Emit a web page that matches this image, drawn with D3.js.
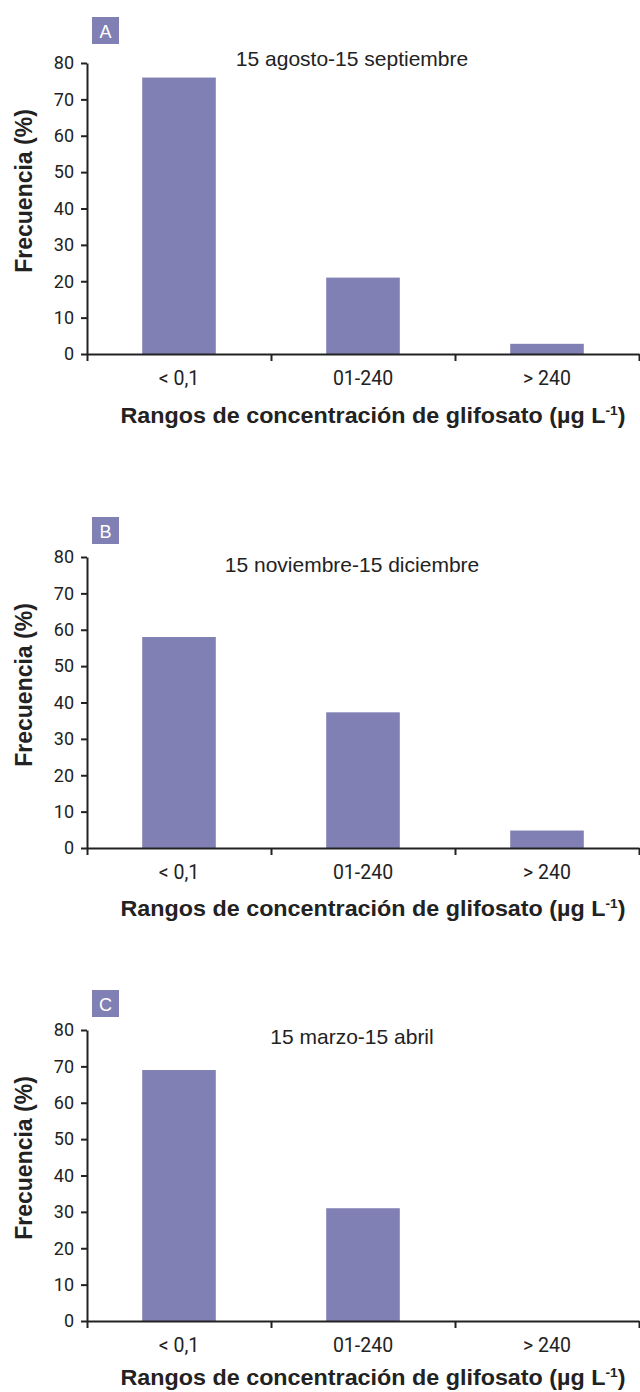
<!DOCTYPE html>
<html>
<head>
  <meta charset="utf-8">
  <script src="https://d3js.org/d3.v7.min.js"></script>
  <style>
    body { margin:0; background:#fff; }
    svg { display:block; }
    .tick text { font-family: Roboto, "Liberation Sans", sans-serif; fill:#222; }
    .domain, .tick line { stroke:#222; stroke-width:2px; }
  </style>
</head>
<body>
<script>
// data
var categories = ["< 0,1", "01-240", "> 240"];
var panelLetters = ["A", "B", "C"];
var panelTitles = ["15 agosto-15 septiembre", "15 noviembre-15 diciembre", "15 marzo-15 abril"];
var valuesA = [76, 21, 2.8];
var valuesB = [58, 37.3, 4.8];
var valuesC = [69, 31, 0];
var yTicks = [0, 10, 20, 30, 40, 50, 60, 70, 80];
var yTitle = "Frecuencia (%)";
var xTitle = "Rangos de concentración de glifosato (µg L";

var series = [valuesA, valuesB, valuesC];

// layout per panel (pixel positions)
var top80 = [63, 557, 1030];
var boxY = [17, 517, 990];
var titleY = [66, 572, 1044];
var xLabOff = [69, 68, 64];
var left = 87, right = 639, plotH = 291;
var barColor = "#8080b4";

var svg = d3.select("body").append("svg")
    .attr("width", 640)
    .attr("height", 1392);

var x = d3.scaleBand().domain(categories).range([left, right]).paddingInner(0.6).paddingOuter(0.3);
var xEdge = d3.scaleLinear().domain([0, categories.length]).range([left, right]);

series.forEach(function(vals, p) {
    var y0 = top80[p] + plotH;
    var y = d3.scaleLinear().domain([0, 80]).range([y0, top80[p]]);
    var g = svg.append("g");

    g.selectAll("rect.bar")
        .data(vals)
        .enter().append("rect")
        .attr("class", "bar")
        .attr("x", function(d, i) { return x(categories[i]); })
        .attr("width", x.bandwidth())
        .attr("y", function(d) { return y(d); })
        .attr("height", function(d) { return y0 - y(d); })
        .attr("fill", barColor);

    // y axis
    var ya = g.append("g")
        .attr("transform", "translate(" + left + ",0)")
        .call(d3.axisLeft(y).tickValues(yTicks).tickSize(6).tickPadding(7).tickSizeOuter(0));
    ya.selectAll(".tick text").style("font-size", "18px");

    // x axis: ticks at the category boundaries
    g.append("g")
        .attr("transform", "translate(0," + y0 + ")")
        .call(d3.axisBottom(xEdge).tickValues(d3.range(categories.length + 1)).tickSize(7).tickSizeOuter(0).tickFormat(""));

    g.selectAll("text.cat")
        .data(categories)
        .enter().append("text")
        .attr("class", "cat")
        .attr("x", function(d) { return x(d) + x.bandwidth() / 2; })
        .attr("y", y0 + 31)
        .attr("text-anchor", "middle")
        .style("font-family", "Roboto, 'Liberation Sans', sans-serif")
        .style("font-size", "19.5px")
        .style("fill", "#222")
        .text(function(d) { return d; });

    // panel letter box
    g.append("rect")
        .attr("x", 92).attr("y", boxY[p])
        .attr("width", 27).attr("height", 27)
        .attr("fill", barColor);
    g.append("text")
        .attr("x", 105.5).attr("y", boxY[p] + 21)
        .attr("text-anchor", "middle")
        .style("font-family", "'Liberation Sans', Arial, sans-serif")
        .style("font-size", "18px")
        .style("fill", "#fff")
        .text(panelLetters[p]);

    // title
    g.append("text")
        .attr("x", 352).attr("y", titleY[p])
        .attr("text-anchor", "middle")
        .style("font-family", "'Liberation Sans', Arial, sans-serif")
        .style("font-size", "21px")
        .style("fill", "#222")
        .text(panelTitles[p]);

    // y title
    g.append("text")
        .attr("transform", "translate(32," + (y0 - 163) + ") rotate(-90)")
        .attr("text-anchor", "middle")
        .style("font-family", "'Liberation Sans', Arial, sans-serif")
        .style("font-weight", "bold")
        .style("font-size", "23px")
        .style("fill", "#222")
        .text(yTitle);

    // x title
    var xt = g.append("text")
        .attr("x", 373).attr("y", y0 + xLabOff[p])
        .attr("text-anchor", "middle")
        .attr("textLength", 505)
        .attr("lengthAdjust", "spacingAndGlyphs")
        .style("font-family", "'Liberation Sans', Arial, sans-serif")
        .style("font-weight", "bold")
        .style("font-size", "22px")
        .style("fill", "#222");
    xt.append("tspan").text(xTitle);
    xt.append("tspan").attr("dy", -8).style("font-size", "13px").text("-1");
    xt.append("tspan").attr("dy", 8).text(")");
});
</script>
</body>
</html>
